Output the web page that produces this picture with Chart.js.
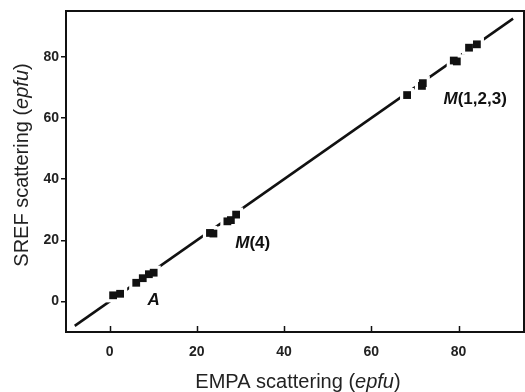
<!DOCTYPE html>
<html lang="en">
<head>
    <meta charset="UTF-8">
    <title>SREF vs EMPA scattering</title>
    <script src="https://cdn.jsdelivr.net/npm/chart.js@4/dist/chart.umd.min.js"></script>
    <style>
        html, body { margin:0; padding:0; overflow:hidden; background:#fff; }
        #chart { display:block; }
    </style>
</head>
<body>
    <canvas id="chart" width="525" height="392"></canvas>
    <script>
        // EMPA (x) vs SREF (y) scattering, epfu
        const siteA_x=[0.8,2.4,6.1,7.6,9.0,10.1];
        const siteA_y=[2.0,2.5,6.1,7.6,8.9,9.4];
        const siteM4_x=[23.0,23.8,27.0,27.8,29.0];
        const siteM4_y=[22.4,22.2,26.2,26.6,28.4];
        const siteM123_x=[68.2,71.6,71.8,78.9,79.6,82.4,84.2];
        const siteM123_y=[67.5,70.5,71.4,78.8,78.5,83.0,84.1];

        // 1:1 line ends
        const oneToOne=[-8,92.5];

        const tickValues=[0,20,40,60,80];
        const axisMin=-10, axisMax=95;

        // labels placed at data coords
        const labelText=["A","M(4)","M(1,2,3)"];
        const labelX=[10.1,32.8,83.8];
        const labelY=[0.3,19.0,66.2];

        const xs=[...siteA_x,...siteM4_x,...siteM123_x];
        const ys=[...siteA_y,...siteM4_y,...siteM123_y];
        const points=xs.map((x,i)=>({x,y:ys[i]}));

        const FONT="'Liberation Sans', Arial, sans-serif";

        function drawParts(ctx,parts,x,y){
            // parts: [text, italic]
            let total=0;
            const widths=parts.map(([t,it])=>{
                ctx.font=(it?"italic ":"")+"20px "+FONT;
                const w=ctx.measureText(t).width;
                total+=w;
                return w;
            });
            let cx=x-total/2;
            parts.forEach(([t,it],i)=>{
                ctx.font=(it?"italic ":"")+"20px "+FONT;
                ctx.fillText(t,cx,y);
                cx+=widths[i];
            });
        }

        const extras={
            id:"extras",
            afterDraw(chart){
                const {ctx,chartArea:a,scales}=chart;
                ctx.save();
                // frame
                ctx.strokeStyle="#111";
                ctx.lineWidth=2;
                ctx.strokeRect(a.left,a.top,a.right-a.left,a.bottom-a.top);
                // x ticks point inward
                ctx.lineWidth=1.5;
                ctx.beginPath();
                for(const v of tickValues){
                    const px=Math.round(scales.x.getPixelForValue(v))+0.5;
                    ctx.moveTo(px,a.bottom);
                    ctx.lineTo(px,a.bottom-6);
                }
                ctx.stroke();

                // axis titles
                ctx.fillStyle="#222";
                ctx.textBaseline="middle";
                ctx.textAlign="left";
                drawParts(ctx,[["EMPA scattering (",false],["epfu",true],[")",false]],298,382);
                ctx.translate(22,165);
                ctx.rotate(-Math.PI/2);
                drawParts(ctx,[["SREF scattering (",false],["epfu",true],[")",false]],0,0);
                ctx.restore();

                // site labels
                ctx.save();
                ctx.fillStyle="#111";
                ctx.textBaseline="middle";
                labelText.forEach((t,i)=>{
                    const px=scales.x.getPixelForValue(labelX[i]);
                    const py=scales.y.getPixelForValue(labelY[i]);
                    const m=t.startsWith("M");
                    const head=m?"M":t;
                    const tail=m?t.slice(1):"";
                    ctx.font="italic bold 17px "+FONT;
                    const w1=ctx.measureText(head).width;
                    ctx.font="bold 17px "+FONT;
                    const w2=ctx.measureText(tail).width;
                    let x0=px-(w1+w2)/2;
                    ctx.font="italic bold 17px "+FONT;
                    ctx.fillText(head,x0,py);
                    ctx.font="bold 17px "+FONT;
                    ctx.fillText(tail,x0+w1,py);
                });
                ctx.restore();
            }
        };

        new Chart(document.getElementById("chart"),{
            type:"scatter",
            data:{
                datasets:[
                    {
                        type:"line",
                        data:oneToOne.map(v=>({x:v,y:v})),
                        borderColor:"#111",
                        borderWidth:2.5,
                        pointRadius:0,
                        order:3
                    },
                    {
                        // white halo breaks the line around marks
                        data:points,
                        pointStyle:"rect",
                        pointRadius:10,
                        backgroundColor:"#fff",
                        borderWidth:0,
                        order:2
                    },
                    {
                        data:points,
                        pointStyle:"rect",
                        pointRadius:5.5,
                        backgroundColor:"#111",
                        borderWidth:0,
                        order:1
                    }
                ]
            },
            options:{
                responsive:false,
                animation:false,
                events:[],
                layout:{autoPadding:false,padding:{top:11,right:1,left:0,bottom:0}},
                plugins:{legend:{display:false},tooltip:{enabled:false}},
                scales:{
                    x:{
                        type:"linear",
                        min:axisMin,max:axisMax,
                        afterBuildTicks:s=>{s.ticks=tickValues.map(v=>({value:v}));},
                        afterFit:s=>{s.height=60;s.paddingLeft=0;s.paddingRight=0;},
                        grid:{drawOnChartArea:false,drawTicks:false},
                        border:{display:false},
                        ticks:{padding:12,color:"#222",font:{family:FONT,size:14,weight:"bold"}}
                    },
                    y:{
                        type:"linear",
                        min:axisMin,max:axisMax,
                        afterBuildTicks:s=>{s.ticks=tickValues.map(v=>({value:v}));},
                        afterFit:s=>{s.width=66;s.paddingTop=0;s.paddingBottom=0;},
                        grid:{drawOnChartArea:false,drawTicks:true,tickLength:5,color:"#111",lineWidth:1.5},
                        border:{display:false},
                        ticks:{padding:2,color:"#222",font:{family:FONT,size:14,weight:"bold"}}
                    }
                }
            },
            plugins:[extras]
        });
    </script>
</body>
</html>
